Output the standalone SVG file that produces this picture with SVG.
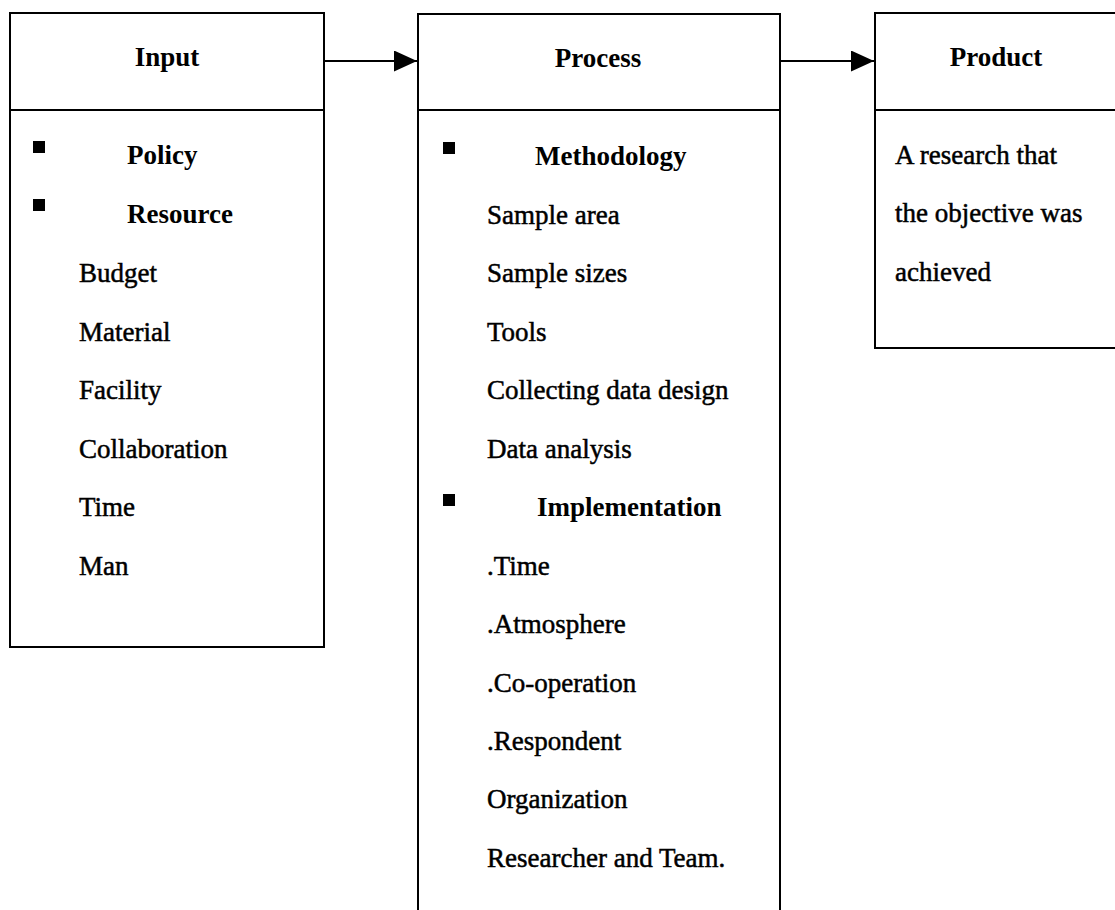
<svg xmlns="http://www.w3.org/2000/svg" width="1115" height="910" viewBox="0 0 1115 910">
<style>
.box{fill:#fff;stroke:#000;stroke-width:2}
.div{stroke:#000;stroke-width:2}
.hd{font-family:"Liberation Serif","Times New Roman",serif;font-size:27px;font-weight:bold;fill:#000;text-anchor:middle}
.sub{font-family:"Liberation Serif","Times New Roman",serif;font-size:27px;font-weight:bold;fill:#000}
.it{font-family:"Liberation Serif","Times New Roman",serif;font-size:27px;fill:#000;stroke:#000;stroke-width:0.5}
.bul{fill:#000}
.conn{stroke:#000;stroke-width:2;fill:none}
</style>
<defs>
<marker id="ah" markerUnits="userSpaceOnUse" markerWidth="24" markerHeight="22" refX="23" refY="10.5" orient="auto">
<path d="M0,0 L23,10.5 L0,21 Z" fill="#000"/>
</marker>
</defs>
<rect width="1115" height="910" fill="#fff"/>

<g id="input">
<rect class="box" x="10" y="13" width="314" height="634"/>
<line class="div" x1="10" y1="110" x2="324" y2="110"/>
<text class="hd" x="167" y="66">Input</text>
<rect class="bul" x="33" y="141" width="12" height="12"/>
<text class="sub" x="127" y="164">Policy</text>
<rect class="bul" x="33" y="199" width="12" height="12"/>
<text class="sub" x="127" y="223">Resource</text>
<text class="it" x="79" y="282">Budget</text>
<text class="it" x="79" y="341">Material</text>
<text class="it" x="79" y="399">Facility</text>
<text class="it" x="79" y="458">Collaboration</text>
<text class="it" x="79" y="516">Time</text>
<text class="it" x="79" y="575">Man</text>
</g>

<g id="process">
<rect class="box" x="418" y="14" width="362" height="920"/>
<line class="div" x1="418" y1="110" x2="780" y2="110"/>
<text class="hd" x="598" y="67">Process</text>
<rect class="bul" x="443" y="142" width="12" height="12"/>
<text class="sub" x="535" y="165">Methodology</text>
<text class="it" x="487" y="224">Sample area</text>
<text class="it" x="487" y="282">Sample sizes</text>
<text class="it" x="487" y="341">Tools</text>
<text class="it" x="487" y="399">Collecting data design</text>
<text class="it" x="487" y="458">Data analysis</text>
<rect class="bul" x="443" y="494" width="12" height="12"/>
<text class="sub" x="537" y="516">Implementation</text>
<text class="it" x="487" y="575">.Time</text>
<text class="it" x="487" y="633">.Atmosphere</text>
<text class="it" x="487" y="692">.Co-operation</text>
<text class="it" x="487" y="750">.Respondent</text>
<text class="it" x="487" y="808">Organization</text>
<text class="it" x="487" y="867">Researcher and Team.</text>
</g>

<g id="product">
<rect class="box" x="875" y="13" width="260" height="335"/>
<line class="div" x1="875" y1="110" x2="1135" y2="110"/>
<text class="hd" x="996" y="66">Product</text>
<text class="it" x="895" y="164">A research that</text>
<text class="it" x="895" y="222">the objective was</text>
<text class="it" x="895" y="281">achieved</text>
</g>

<g id="connectors">
<line class="conn" x1="324" y1="61" x2="417" y2="61" marker-end="url(#ah)"/>
<line class="conn" x1="780" y1="61" x2="874" y2="61" marker-end="url(#ah)"/>
</g>
</svg>
